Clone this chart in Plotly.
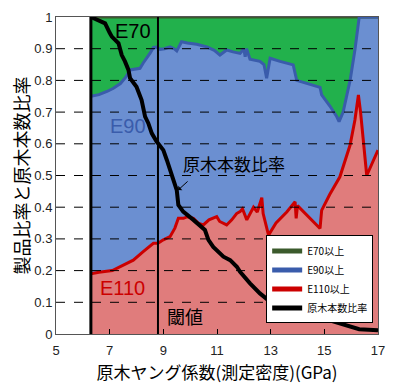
import plotly.graph_objects as go

# ---------------- data ----------------
x_e90 = [6.3, 6.6, 6.9, 7.14, 7.4, 7.6, 7.76, 7.9, 8.13, 8.25, 8.38, 8.5, 8.63, 8.75,
         8.88, 9.05, 9.25, 9.4, 9.5, 9.6, 9.68, 9.9, 10.24, 10.62, 10.9, 11.11, 11.25,
         11.36, 11.6, 11.86, 12.0, 12.05, 12.1, 12.23, 12.6, 12.75, 12.85, 12.98, 13.35,
         13.84, 13.97, 14.4, 14.84, 14.9, 15.2, 15.46, 15.55, 15.7, 15.96, 16.14, 16.27,
         16.3, 17.0]
e90 = [0.75, 0.755, 0.765, 0.775, 0.79, 0.81, 0.833, 0.835, 0.838, 0.855, 0.87, 0.885,
       0.904, 0.905, 0.898, 0.90, 0.906, 0.90, 0.893, 0.91, 0.922, 0.918, 0.914, 0.906,
       0.895, 0.88, 0.89, 0.896, 0.89, 0.885, 0.90, 0.875, 0.90, 0.867, 0.86, 0.85,
       0.807, 0.87, 0.86, 0.849, 0.80, 0.79, 0.778, 0.754, 0.72, 0.686, 0.67, 0.70,
       0.80, 0.896, 0.996, 1.0, 1.0]

x_e110 = [6.3, 6.6, 7.1, 7.4, 7.88, 8.25, 8.5, 8.63, 8.8, 9.0, 9.25, 9.43, 9.56, 9.75,
          9.9, 10.12, 10.3, 10.49, 10.7, 10.99, 11.1, 11.36, 11.55, 11.73, 11.86, 11.95,
          12.11, 12.36, 12.5, 12.67, 12.72, 12.79, 12.92, 13.2, 13.6, 13.91, 13.95, 14.0,
          14.4, 14.84, 14.9, 15.2, 15.58, 15.96, 16.14, 16.27, 16.35, 16.58, 17.0]
e110 = [0.19, 0.195, 0.2, 0.212, 0.233, 0.26, 0.278, 0.286, 0.286, 0.297, 0.307, 0.334,
        0.365, 0.365, 0.37, 0.365, 0.35, 0.344, 0.36, 0.37, 0.355, 0.344, 0.36, 0.38,
        0.386, 0.395, 0.36, 0.40, 0.385, 0.43, 0.38, 0.354, 0.312, 0.35, 0.385, 0.417,
        0.365, 0.405, 0.37, 0.333, 0.39, 0.44, 0.496, 0.596, 0.675, 0.754, 0.70, 0.50,
        0.58]

x_e70 = [6.3, 17.0]
e70 = [1.0, 1.0]

x_ratio = [6.3, 6.64, 6.83, 7.0, 7.08, 7.33, 7.45, 7.57, 7.7, 7.76, 8.0, 8.19, 8.32,
           8.44, 8.57, 8.75, 8.88, 9.0, 9.13, 9.31, 9.5, 9.56, 9.74, 10.12, 10.55, 10.68,
           10.86, 11.24, 11.49, 11.74, 11.86, 12.23, 12.6, 12.98, 13.3, 13.72, 14.35,
           15.2, 15.6, 16.0, 16.3, 17.0]
ratio = [1.0, 0.985, 0.98, 0.95, 0.938, 0.917, 0.88, 0.86, 0.833, 0.807, 0.78, 0.738,
         0.686, 0.665, 0.633, 0.607, 0.591, 0.58, 0.549, 0.507, 0.454, 0.407, 0.386, 0.36,
         0.328, 0.297, 0.275, 0.244, 0.233, 0.212, 0.196, 0.16, 0.128, 0.102, 0.09, 0.081,
         0.065, 0.044, 0.035, 0.022, 0.015, 0.012]

thresholds = [6.3, 8.8]
grid_values = [0.1, 0.2, 0.3, 0.4, 0.5, 0.6, 0.7, 0.8, 0.9]

names = ["E70以上", "E90以上", "E110以上", "原木本数比率"]

# ---------------- styles ----------------
GREEN_FILL = "#22b14c"
BLUE_FILL = "#6b8fd1"
RED_FILL = "#e07c7c"
GREEN_LINE = "#3b5a2c"
BLUE_LINE = "#3a5cab"
RED_LINE = "#cc0000"
JP = "Noto Sans CJK JP"

fig = go.Figure()

# filled layers (no legend)
fig.add_trace(go.Scatter(x=x_e110, y=e110, mode="lines", line=dict(width=0),
                         fill="tozeroy", fillcolor=RED_FILL, showlegend=False,
                         hoverinfo="skip"))
fig.add_trace(go.Scatter(x=x_e90, y=e90, mode="lines", line=dict(width=0),
                         fill="tonexty", fillcolor=BLUE_FILL, showlegend=False,
                         hoverinfo="skip"))
fig.add_trace(go.Scatter(x=x_e70, y=e70, mode="lines", line=dict(width=0),
                         fill="tonexty", fillcolor=GREEN_FILL, showlegend=False,
                         hoverinfo="skip"))

# lines
fig.add_trace(go.Scatter(x=x_e70, y=e70, mode="lines", name=names[0],
                         line=dict(color=GREEN_LINE, width=3)))
fig.add_trace(go.Scatter(x=x_e90, y=e90, mode="lines", name=names[1],
                         line=dict(color=BLUE_LINE, width=3)))
fig.add_trace(go.Scatter(x=x_e110, y=e110, mode="lines", name=names[2],
                         line=dict(color=RED_LINE, width=3)))
fig.add_trace(go.Scatter(x=x_ratio, y=ratio, mode="lines", name=names[3],
                         line=dict(color="black", width=4)))

shapes = []
for g in grid_values:
    shapes.append(dict(type="line", xref="paper", x0=0, x1=1, yref="y", y0=g, y1=g,
                       line=dict(color="black", width=1, dash="dash"), layer="above"))
shapes.append(dict(type="line", xref="x", x0=thresholds[0], x1=thresholds[0],
                   yref="y", y0=0, y1=1, line=dict(color="black", width=3), layer="above"))
shapes.append(dict(type="line", xref="x", x0=thresholds[1], x1=thresholds[1],
                   yref="y", y0=0, y1=1, line=dict(color="black", width=2), layer="above"))

annotations = [
    dict(x=7.87, y=0.956, text="E70", showarrow=False,
         font=dict(family="Liberation Sans", size=20, color="black")),
    dict(x=7.68, y=0.656, text="E90", showarrow=False,
         font=dict(family="Liberation Sans", size=20, color=BLUE_LINE)),
    dict(x=7.46, y=0.145, text="E110", showarrow=False,
         font=dict(family="Liberation Sans", size=20, color=RED_LINE)),
    dict(x=9.81, y=0.057, text="閾値", showarrow=False,
         font=dict(family=JP, size=18, color="black")),
    dict(x=11.63, y=0.539, text="原木本数比率", showarrow=False,
         font=dict(family=JP, size=17, color="black")),
    dict(x=9.55, y=0.454, text="", showarrow=True, ax=11, ay=-10,
         arrowhead=1, arrowsize=1, arrowwidth=1, arrowcolor="black"),
]

# the page adds an 8px body margin, so margins are offset to compensate
fig.update_layout(
    width=401, height=389,
    margin=dict(l=48, r=31, t=9, b=63, autoexpand=False),
    paper_bgcolor="white", plot_bgcolor="white",
    shapes=shapes, annotations=annotations,
    showlegend=True,
    legend=dict(x=0.985, y=0.172, xanchor="right", yanchor="middle",
                bgcolor="white", bordercolor="black", borderwidth=1,
                font=dict(family=JP, size=10, color="black"),
                traceorder="normal", tracegroupgap=0, itemwidth=30,
                itemsizing="constant"),
    xaxis=dict(range=[5, 17], tick0=5, dtick=2, ticks="inside", ticklen=5,
               tickcolor="black", showgrid=False, zeroline=False,
               showline=True, linecolor="#555", mirror=True,
               ticklabelstandoff=4,
               tickfont=dict(family="Liberation Sans", size=13, color="#222"),
               title=dict(text="原木ヤング係数(測定密度)(GPa)", standoff=10,
                          font=dict(family=JP, size=17, color="black"))),
    yaxis=dict(range=[0, 1], dtick=0.1, ticks="", showgrid=False, zeroline=False,
               showline=True, linecolor="#555", mirror=True,
               tickfont=dict(family="Liberation Sans", size=13, color="#222"),
               title=dict(text="製品比率と原木本数比率", standoff=2,
                          font=dict(family=JP, size=18, color="black"))),
)

fig.write_html("out.html")
